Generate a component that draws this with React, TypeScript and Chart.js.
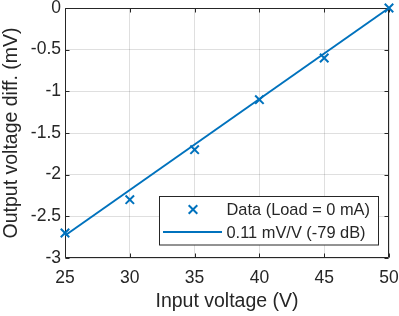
import React, { useEffect, useRef } from "react";
import { Chart, registerables } from "chart.js";

Chart.register(...registerables);

const inputVoltage = [25, 30, 35, 40, 45, 50];
const outputDiff = [-2.7, -2.3, -1.7, -1.1, -0.6, 0];
const fitX = [25, 50];
const fitY = [-2.73, 0];
const xTicks = [25, 30, 35, 40, 45, 50];
const yTicks = [-3, -2.5, -2, -1.5, -1, -0.5, 0];
const dataLabel = "Data (Load = 0 mA)";
const fitLabel = "0.11 mV/V (-79 dB)";
const xTitle = "Input voltage (V)";
const yTitle = "Output voltage diff. (mV)";

const BLUE = "#0072BD";
const AXIS = "#262626";
const FONT = "'Liberation Sans', Arial, Helvetica, sans-serif";

const framePlugin = {
  id: "matlabFrame",
  beforeDatasetsDraw(chart: any) {
    const { ctx, chartArea } = chart;
    const { left, right, top, bottom } = chartArea;
    const xs = chart.scales.x;
    const ys = chart.scales.y;
    const L = Math.round(left) + 0.5;
    const R = Math.round(right) - 0.5;
    const T = Math.round(top) + 0.5;
    const B = Math.round(bottom) - 0.5;
    ctx.save();
    ctx.strokeStyle = AXIS;
    ctx.lineWidth = 1;
    ctx.beginPath();
    ctx.rect(L, T, R - L, B - T);
    const tl = 4;
    xTicks.forEach((v) => {
      const p = Math.round(xs.getPixelForValue(v)) + 0.5;
      ctx.moveTo(p, B);
      ctx.lineTo(p, B - tl);
      ctx.moveTo(p, T);
      ctx.lineTo(p, T + tl);
    });
    yTicks.forEach((v) => {
      const p = Math.round(ys.getPixelForValue(v)) + 0.5;
      ctx.moveTo(L, p);
      ctx.lineTo(L + tl, p);
      ctx.moveTo(R, p);
      ctx.lineTo(R - tl, p);
    });
    ctx.stroke();
    ctx.restore();
  },
};

const legendPlugin = {
  id: "matlabLegend",
  afterDatasetsDraw(chart: any) {
    const { ctx } = chart;
    const x0 = 159.5;
    const y0 = 196.5;
    const w = 219;
    const h = 48.5;
    ctx.save();
    ctx.fillStyle = "#ffffff";
    ctx.fillRect(x0, y0, w, h);
    ctx.strokeStyle = AXIS;
    ctx.lineWidth = 1;
    ctx.strokeRect(x0, y0, w, h);
    const row1 = 209.5;
    const row2 = 232;
    ctx.strokeStyle = BLUE;
    ctx.lineWidth = 2;
    const mx = 193;
    const r = 4.3;
    ctx.beginPath();
    ctx.moveTo(mx - r, row1 - r);
    ctx.lineTo(mx + r, row1 + r);
    ctx.moveTo(mx + r, row1 - r);
    ctx.lineTo(mx - r, row1 + r);
    ctx.stroke();
    ctx.beginPath();
    ctx.moveTo(163, row2);
    ctx.lineTo(222, row2);
    ctx.stroke();
    ctx.fillStyle = AXIS;
    ctx.font = `16.4px ${FONT}`;
    ctx.textBaseline = "middle";
    ctx.textAlign = "left";
    ctx.fillText(chart.data.datasets[0].label, 226.5, row1 + 1);
    ctx.fillText(chart.data.datasets[1].label, 226.5, row2 + 1);
    ctx.restore();
  },
};

export default function App() {
  const canvasRef = useRef<HTMLCanvasElement | null>(null);

  useEffect(() => {
    const canvas = canvasRef.current;
    if (!canvas) return;
    const chart = new Chart(canvas, {
      type: "scatter",
      data: {
        datasets: [
          {
            label: dataLabel,
            data: inputVoltage.map((x, i) => ({ x, y: outputDiff[i] })),
            pointStyle: "crossRot",
            pointRadius: 6,
            pointBorderWidth: 2,
            borderColor: BLUE,
            backgroundColor: BLUE,
            showLine: false,
            clip: false as any,
          },
          {
            label: fitLabel,
            data: fitX.map((x, i) => ({ x, y: fitY[i] })),
            showLine: true,
            pointRadius: 0,
            borderColor: BLUE,
            backgroundColor: BLUE,
            borderWidth: 2,
            clip: false as any,
          },
        ],
      },
      options: {
        animation: false,
        responsive: false,
        maintainAspectRatio: false,
        layout: { padding: { top: 8, right: 10, left: 0, bottom: 0 } },
        plugins: {
          legend: { display: false },
          tooltip: { enabled: false },
        },
        scales: {
          x: {
            type: "linear",
            min: 25,
            max: 50,
            afterBuildTicks: (s: any) => {
              s.ticks = xTicks.map((v) => ({ value: v }));
            },
            afterFit: (s: any) => {
              s.height = 58;
              s.paddingLeft = 0;
              s.paddingRight = 0;
            },
            border: { display: false },
            grid: {
              color: "rgba(38,38,38,0.15)",
              lineWidth: 1,
              drawTicks: false,
            },
            ticks: {
              color: AXIS,
              font: { family: FONT, size: 17.5 },
              padding: 10,
              maxRotation: 0,
              autoSkip: false,
              callback: (v: any) => String(v),
            },
            title: {
              display: true,
              text: xTitle,
              color: AXIS,
              font: { family: FONT, size: 19.5 },
              padding: { top: 0, bottom: 3 },
            },
          },
          y: {
            type: "linear",
            min: -3,
            max: 0,
            afterBuildTicks: (s: any) => {
              s.ticks = yTicks.map((v) => ({ value: v }));
            },
            afterFit: (s: any) => {
              s.width = 65;
              s.paddingTop = 0;
              s.paddingBottom = 0;
            },
            border: { display: false },
            grid: {
              color: "rgba(38,38,38,0.15)",
              lineWidth: 1,
              drawTicks: false,
            },
            ticks: {
              color: AXIS,
              font: { family: FONT, size: 17.5 },
              padding: 4,
              autoSkip: false,
              callback: (v: any) => String(v),
            },
            title: {
              display: true,
              text: yTitle,
              color: AXIS,
              font: { family: FONT, size: 19.5 },
              padding: { top: 0, bottom: 0 },
            },
          },
        },
      },
      plugins: [framePlugin, legendPlugin],
    });
    return () => chart.destroy();
  }, []);

  return (
    <div style={{ position: "fixed", left: 0, top: 0, width: 399, height: 316, background: "#fff" }}>
      <canvas ref={canvasRef} width={399} height={316} style={{ width: 399, height: 316, display: "block" }} />
    </div>
  );
}
